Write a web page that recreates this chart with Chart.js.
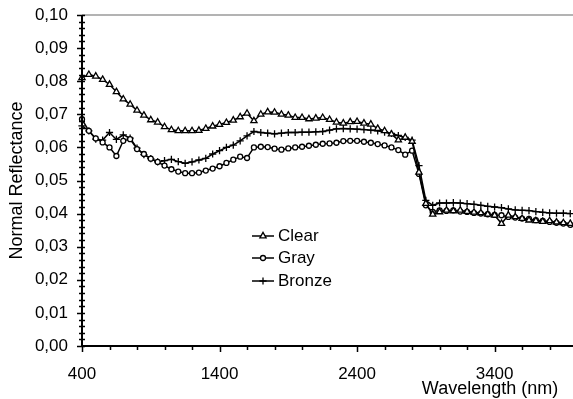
<!DOCTYPE html>
<html>
<head>
<meta charset="utf-8">
<script src="https://cdn.jsdelivr.net/npm/chart.js@4.4.0/dist/chart.umd.min.js"></script>
<style>
  html, body { margin: 0; padding: 0; background: #fff; }
  #wrap { width: 573px; height: 399px; }
</style>
</head>
<body>
<div id="wrap"><canvas id="chart"></canvas></div>
<script>
// wavelength (nm)
const wavelengths = [400, 450, 500, 550, 600, 650, 700, 750, 800, 850,
  900, 950, 1000, 1050, 1100, 1150, 1200, 1250, 1300, 1350,
  1400, 1450, 1500, 1550, 1600, 1650, 1700, 1750, 1800, 1850,
  1900, 1950, 2000, 2050, 2100, 2150, 2200, 2250, 2300, 2350,
  2400, 2450, 2500, 2550, 2600, 2650, 2700, 2750, 2800, 2850,
  2900, 2950, 3000, 3050, 3100, 3150, 3200, 3250, 3300, 3350,
  3400, 3450, 3500, 3550, 3600, 3650, 3700, 3750, 3800, 3850,
  3900, 3950];

const clear = [0.0810, 0.0820, 0.0815, 0.0805, 0.0790, 0.0768, 0.0746, 0.0730, 0.0712, 0.0697,
  0.0683, 0.0676, 0.0662, 0.0653, 0.0650, 0.0650, 0.0650, 0.0651, 0.0657, 0.0664,
  0.0669, 0.0675, 0.0682, 0.0692, 0.0703, 0.0680, 0.0700, 0.0707, 0.0706, 0.0700,
  0.0697, 0.0690, 0.0690, 0.0686, 0.0688, 0.0690, 0.0684, 0.0676, 0.0673, 0.0677,
  0.0678, 0.0673, 0.0670, 0.0657, 0.0650, 0.0640, 0.0622, 0.0630, 0.0618, 0.0525,
  0.0430, 0.0398, 0.0405, 0.0410, 0.0408, 0.0410, 0.0406, 0.0404, 0.0402, 0.0398,
  0.0395, 0.0370, 0.0395, 0.0390, 0.0385, 0.0380, 0.0378, 0.0376, 0.0378, 0.0374,
  0.0372, 0.0370];

const gray = [0.0685, 0.0650, 0.0627, 0.0615, 0.0600, 0.0574, 0.0620, 0.0625, 0.0595, 0.0580,
  0.0566, 0.0556, 0.0545, 0.0534, 0.0527, 0.0522, 0.0522, 0.0524, 0.0530, 0.0536,
  0.0543, 0.0553, 0.0563, 0.0572, 0.0568, 0.0600, 0.0602, 0.0601, 0.0596, 0.0593,
  0.0597, 0.0600, 0.0602, 0.0605, 0.0608, 0.0611, 0.0612, 0.0614, 0.0619, 0.0620,
  0.0620, 0.0617, 0.0614, 0.0610, 0.0606, 0.0600, 0.0592, 0.0578, 0.0590, 0.0520,
  0.0425, 0.0405, 0.0410, 0.0408, 0.0410, 0.0406, 0.0405, 0.0402, 0.0400, 0.0398,
  0.0396, 0.0395, 0.0390, 0.0388, 0.0385, 0.0384, 0.0380, 0.0378, 0.0375, 0.0372,
  0.0370, 0.0366];

const bronze = [0.0665, 0.0650, 0.0625, 0.0622, 0.0645, 0.0624, 0.0638, 0.0628, 0.0598, 0.0578,
  0.0566, 0.0556, 0.0560, 0.0564, 0.0557, 0.0552, 0.0556, 0.0562, 0.0567, 0.0580,
  0.0590, 0.0600, 0.0607, 0.0620, 0.0635, 0.0648, 0.0645, 0.0643, 0.0641, 0.0643,
  0.0645, 0.0645, 0.0646, 0.0646, 0.0647, 0.0648, 0.0652, 0.0656, 0.0657, 0.0656,
  0.0655, 0.0654, 0.0652, 0.0650, 0.0646, 0.0642, 0.0636, 0.0630, 0.0622, 0.0545,
  0.0440, 0.0425, 0.0432, 0.0432, 0.0433, 0.0432, 0.0430, 0.0428, 0.0425, 0.0422,
  0.0420, 0.0418, 0.0414, 0.0411, 0.0410, 0.0409, 0.0406, 0.0404, 0.0402, 0.0401,
  0.0401, 0.0400];

const seriesNames = ["Clear", "Gray", "Bronze"];
const xTickLabels = [400, 1400, 2400, 3400];
const xTitle = "Wavelength (nm)";
const yTitle = "Normal Reflectance";

const FONT = "Liberation Sans, Arial, sans-serif";
const markers = [
  { style: "triangle", radius: 3.6 },
  { style: "circle", radius: 2.5 },
  { style: "cross", radius: 3.6 }
];

function toPoints(values) {
  return values.map((v, i) => ({ x: wavelengths[i], y: v }));
}

const seriesValues = [clear, gray, bronze];
const datasets = seriesNames.map((name, i) => ({
  label: name,
  data: toPoints(seriesValues[i]),
  borderColor: "#000",
  borderWidth: 1.5,
  pointStyle: markers[i].style,
  pointRadius: markers[i].radius,
  pointBackgroundColor: "#fff",
  pointBorderColor: "#000",
  pointBorderWidth: 1.3,
  tension: 0,
  clip: false
}));

// axes, ticks, legend and titles
const decor = {
  id: "decor",
  afterDraw(chart) {
    const { ctx, chartArea: a, scales: { x, y } } = chart;
    ctx.save();

    // grey top frame line
    ctx.strokeStyle = "#9a9a9a";
    ctx.lineWidth = 1.5;
    ctx.beginPath();
    ctx.moveTo(a.left, a.top);
    ctx.lineTo(a.right, a.top);
    ctx.stroke();

    ctx.strokeStyle = "#000";
    ctx.lineWidth = 2;
    ctx.beginPath();
    ctx.moveTo(a.left, a.top);
    ctx.lineTo(a.left, a.bottom);
    ctx.lineTo(a.right, a.bottom);
    ctx.stroke();

    // y ticks
    ctx.lineWidth = 1.5;
    ctx.beginPath();
    for (let k = 0; k <= 50; k++) {
      const py = Math.round(y.getPixelForValue(k * 0.002)) + 0.5;
      const major = k % 5 === 0;
      ctx.moveTo(a.left - (major ? 5 : 3), py);
      ctx.lineTo(a.left + 3, py);
    }
    // x ticks
    for (let v = 400; v <= x.max; v += 200) {
      const px = Math.round(x.getPixelForValue(v)) + 0.5;
      const major = (v - 400) % 1000 === 0;
      ctx.moveTo(px, a.bottom);
      ctx.lineTo(px, a.bottom + (major ? 6 : 4));
    }
    ctx.stroke();

    // legend
    ctx.font = "17px " + FONT;
    ctx.fillStyle = "#000";
    ctx.textBaseline = "middle";
    ctx.textAlign = "left";
    const lx = 252, rows = [236, 258, 281];
    seriesNames.forEach((name, i) => {
      const ly = rows[i];
      ctx.strokeStyle = "#000";
      ctx.lineWidth = 1.5;
      ctx.beginPath();
      ctx.moveTo(lx, ly);
      ctx.lineTo(lx + 22, ly);
      ctx.stroke();
      ctx.fillStyle = "#fff";
      ctx.lineWidth = 1.3;
      Chart.helpers.drawPoint(ctx, { pointStyle: markers[i].style, radius: markers[i].radius, borderWidth: 1.3 }, lx + 11, ly);
      ctx.fillStyle = "#000";
      ctx.fillText(name, lx + 26, ly);
    });

    // x title
    ctx.font = "18px " + FONT;
    ctx.textAlign = "center";
    ctx.fillText(xTitle, 490, 389);

    // y title
    ctx.translate(17, (a.top + a.bottom) / 2);
    ctx.rotate(-Math.PI / 2);
    ctx.fillText(yTitle, 0, 0);
    ctx.restore();
  }
};

new Chart(document.getElementById("chart"), {
  type: "line",
  data: { datasets },
  options: {
    responsive: true,
    maintainAspectRatio: false,
    animation: false,
    layout: { autoPadding: false, padding: { top: 15, right: 0, left: 0, bottom: 0 } },
    plugins: { legend: { display: false }, tooltip: { enabled: false } },
    scales: {
      x: {
        type: "linear",
        min: 400,
        max: 3970,
        grid: { display: false, drawTicks: false },
        border: { display: false },
        afterFit: (s) => { s.height = 53; s.paddingLeft = 0; s.paddingRight = 0; },
        afterBuildTicks: (s) => { s.ticks = xTickLabels.map(v => ({ value: v })); },
        ticks: {
          color: "#000",
          padding: 18,
          maxRotation: 0,
          font: { size: 17, family: FONT },
          callback: (v) => String(v)
        }
      },
      y: {
        min: 0,
        max: 0.1,
        grid: { display: false, drawTicks: false },
        border: { display: false },
        afterFit: (s) => { s.width = 82; s.paddingTop = 0; s.paddingBottom = 0; },
        ticks: {
          stepSize: 0.01,
          color: "#000",
          padding: 14,
          font: { size: 17, family: FONT },
          callback: (v) => v.toFixed(2).replace(".", ",")
        }
      }
    }
  },
  plugins: [decor]
});
</script>
</body>
</html>
